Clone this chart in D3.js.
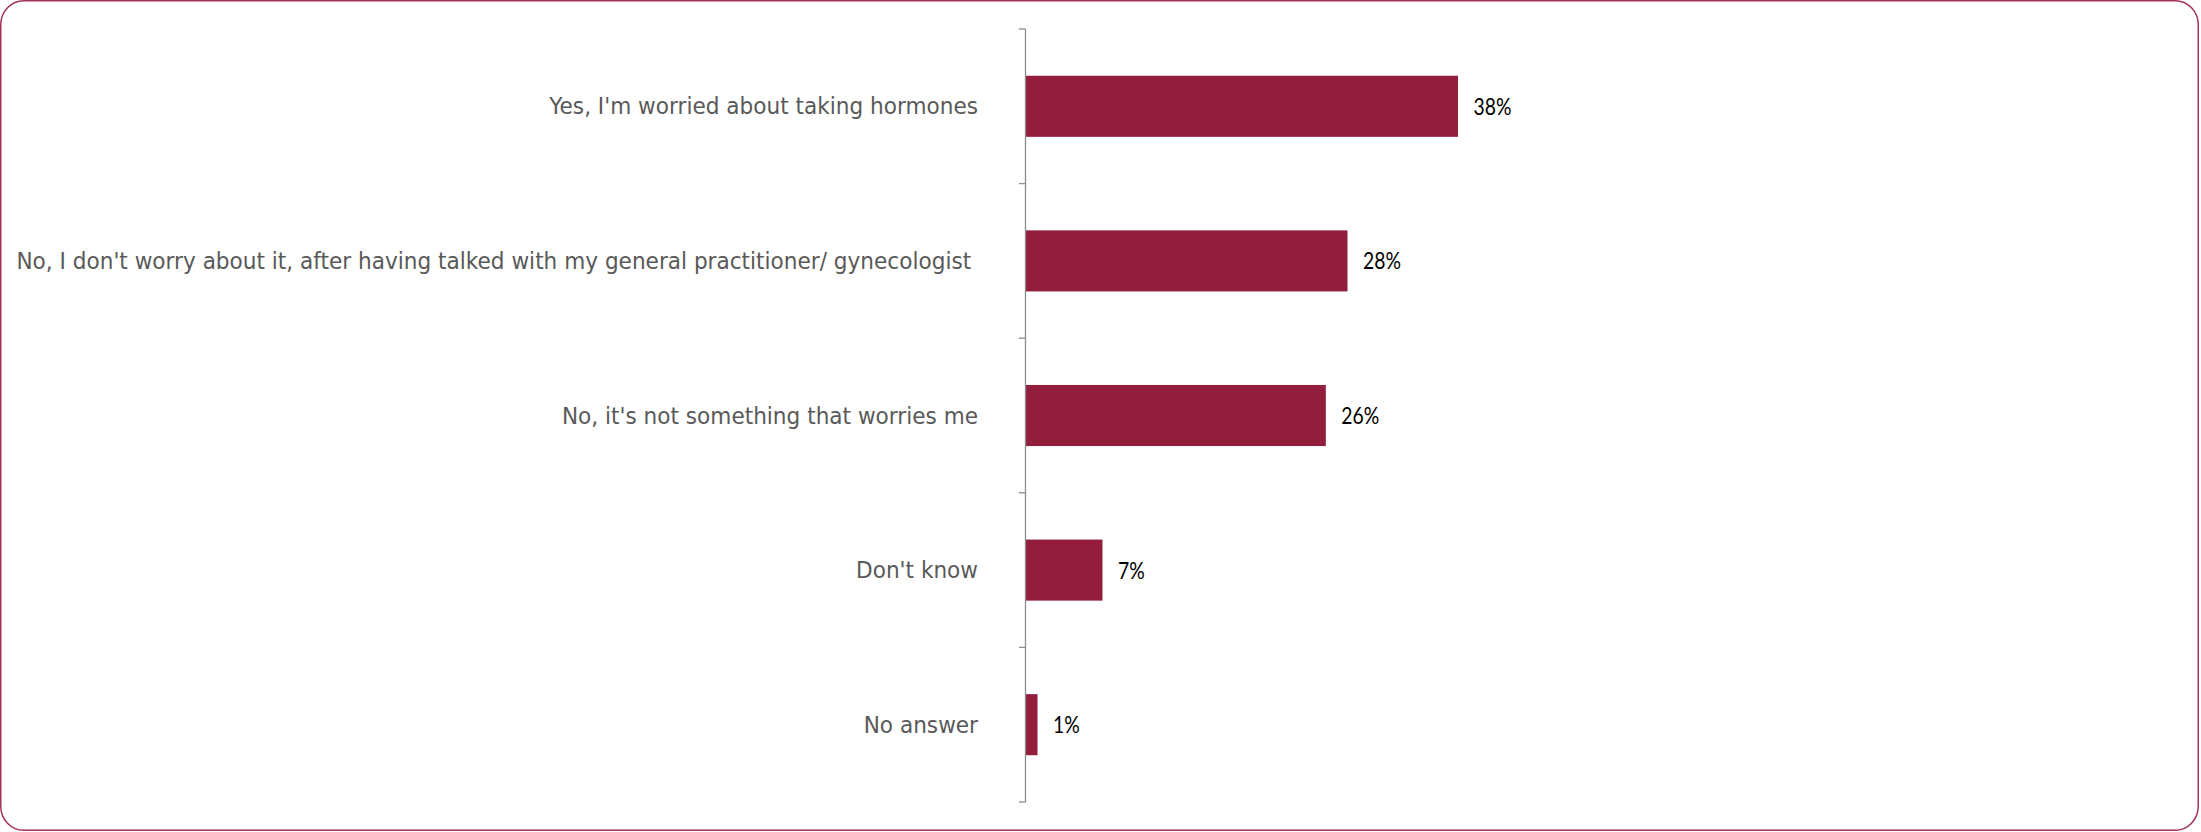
<!DOCTYPE html>
<html>
<head>
<meta charset="utf-8">
<script src="https://cdn.jsdelivr.net/npm/d3@7"></script>
<style>
  html, body { margin: 0; padding: 0; background: #fff; }
  svg { display: block; }
</style>
</head>
<body>
<svg id="chart" width="2201" height="832"></svg>
<script>
const categories = [
  "Yes, I'm worried about taking hormones",
  "No, I don't worry about it, after having talked with my general practitioner/ gynecologist ",
  "No, it's not something that worries me",
  "Don't know",
  "No answer"
];
const values = [38.0, 28.3, 26.4, 6.8, 1.1];
const valueLabels = ["38%", "28%", "26%", "7%", "1%"];

const W = 2201, H = 832;
const svg = d3.select("#chart");

// rounded frame
svg.append("rect")
  .attr("x", 0.75).attr("y", 0.75)
  .attr("width", 2197.5).attr("height", 829.5)
  .attr("rx", 23).attr("ry", 24)
  .attr("fill", "#fff")
  .attr("stroke", "#a3325a")
  .attr("stroke-width", 1.5);

const axisX = 1025;
const y = d3.scaleBand()
  .domain(categories)
  .range([29, 802])
  .paddingInner(0.605)
  .paddingOuter(0.3025);

const x = d3.scaleLinear()
  .domain([0, 100])
  .range([axisX, axisX + 1139.5]);

// bars
svg.append("g").selectAll("rect")
  .data(categories)
  .join("rect")
  .attr("x", x(0))
  .attr("y", d => y(d))
  .attr("width", (d, i) => x(values[i]) - x(0))
  .attr("height", y.bandwidth())
  .attr("fill", "#931d3d");

// axis line and ticks
const axisG = svg.append("g");
axisG.append("line")
  .attr("x1", axisX + 0.5).attr("x2", axisX + 0.5)
  .attr("y1", 29).attr("y2", 802)
  .attr("stroke", "#8c8c8c").attr("stroke-width", 1.3);
const boundaries = categories.map(c => y(c) - y.step() * y.paddingInner() / 2);
boundaries.push(802);
axisG.selectAll("line.tick")
  .data(boundaries)
  .join("line")
  .attr("class", "tick")
  .attr("x1", axisX - 6).attr("x2", axisX + 0.5)
  .attr("y1", d => d).attr("y2", d => d)
  .attr("stroke", "#8c8c8c").attr("stroke-width", 1.3);

// category labels
svg.append("g").selectAll("text")
  .data(categories)
  .join("text")
  .attr("transform", d => `translate(978,${y(d) + y.bandwidth() / 2 + 8}) scale(0.94,1)`)
  .attr("text-anchor", "end")
  .style("white-space", "pre")
  .attr("font-family", "'DejaVu Sans', Verdana, sans-serif")
  .attr("font-size", "23px")
  .attr("fill", "#595959")
  .text(d => d);

// value labels
svg.append("g").selectAll("text")
  .data(categories)
  .join("text")
  .attr("transform", (d, i) => `translate(${x(values[i]) + 15.5},${y(d) + y.bandwidth() / 2 + 8.5}) scale(0.86,1)`)
  .attr("font-family", "Lato, 'Open Sans', sans-serif")
  .attr("font-size", "22.5px")
  .attr("fill", "#000")
  .text((d, i) => valueLabels[i]);
</script>
</body>
</html>
